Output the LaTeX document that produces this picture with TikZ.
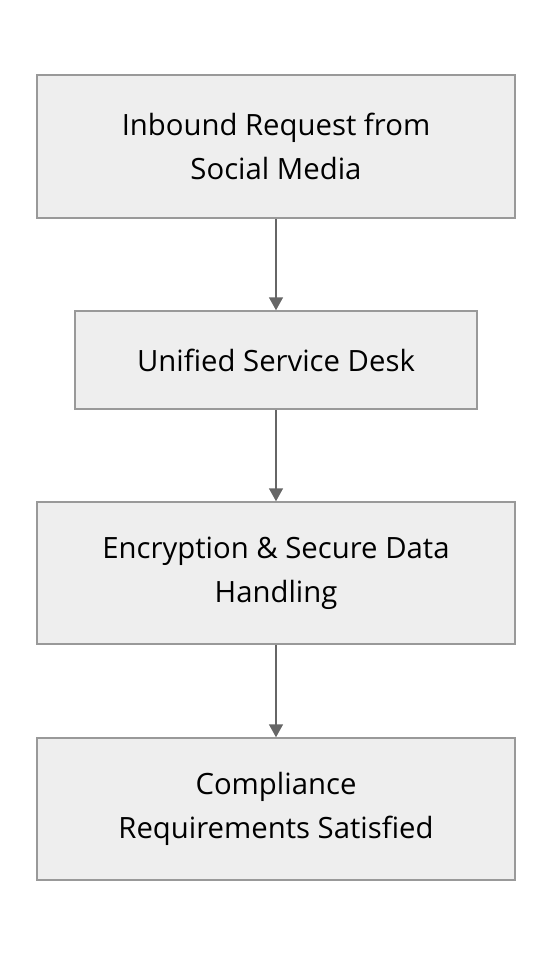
\documentclass[tikz,border=0pt]{standalone}
\usepackage{fontspec}
\setmainfont{Open Sans}
\usetikzlibrary{arrows.meta}
\definecolor{boxfill}{HTML}{EEEEEE}
\definecolor{boxline}{HTML}{999999}
\definecolor{arrowc}{HTML}{666666}
\begin{document}
\begin{tikzpicture}[x=1pt,y=-1pt,
  flowbox/.style={draw=boxline,fill=boxfill,line width=1.5pt,rectangle,align=center,
    font=\fontsize{29.3}{44}\selectfont,inner sep=0pt},
  conn/.style={draw=arrowc,line width=1.5pt,-{Triangle[length=13pt,width=14pt]}}]
\useasboundingbox (0,0) rectangle (552,956);
\node[flowbox,minimum width=478pt,minimum height=143pt] (a) at (276,146.5) {Inbound Request from\\Social Media};
\node[flowbox,minimum width=402pt,minimum height=98pt] (b) at (276,360) {Unified Service Desk};
\node[flowbox,minimum width=478pt,minimum height=142pt] (c) at (276,573) {Encryption \& Secure Data\\Handling};
\node[flowbox,minimum width=478pt,minimum height=142pt] (d) at (276,809) {Compliance\\Requirements Satisfied};
\draw[conn] (a.south) -- (b.north);
\draw[conn] (b.south) -- (c.north);
\draw[conn] (c.south) -- (d.north);
\end{tikzpicture}
\end{document}
